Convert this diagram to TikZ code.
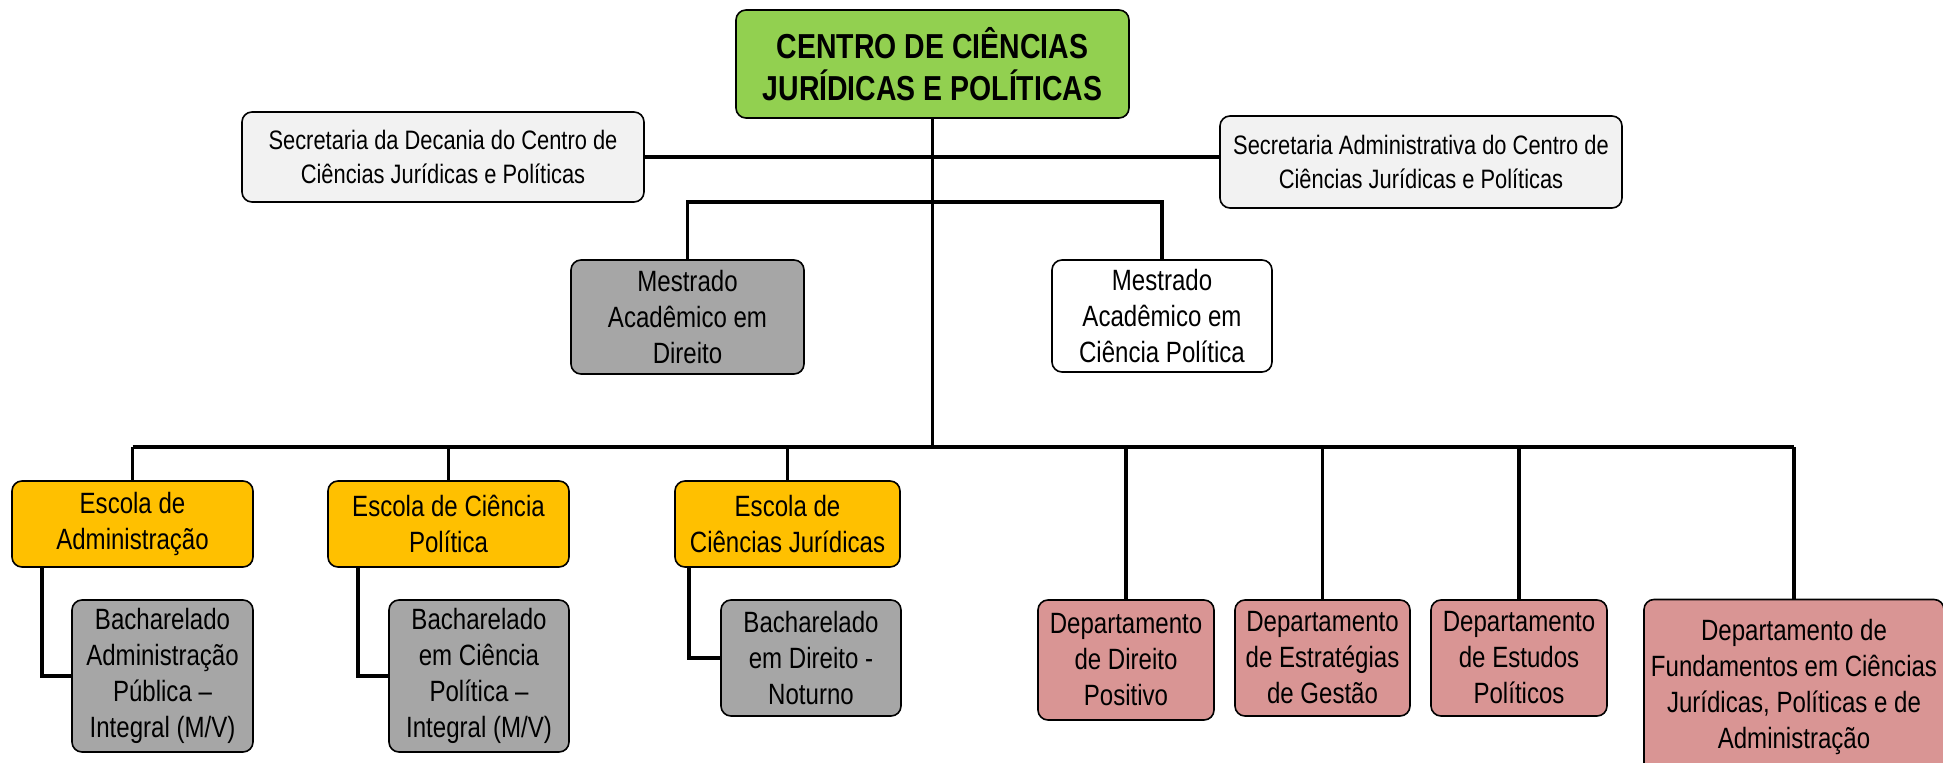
\documentclass[tikz,border=0pt]{standalone}
\usepackage{fontspec}
\setmainfont{Liberation Sans}[FakeStretch=0.82]
\definecolor{cgreen}{HTML}{92D050}
\definecolor{cgold}{HTML}{FFC000}
\definecolor{cgray}{HTML}{A6A6A6}
\definecolor{cpink}{HTML}{D99594}
\definecolor{clight}{HTML}{F2F2F2}
\tikzset{
  box/.style={draw=black, line width=1.2pt, rounded corners=7.5pt, align=center, inner sep=0pt,
    font=\fontsize{22}{27}\selectfont},
  sectxt/.style={font=\fontsize{20}{25}\selectfont},
  titletxt/.style={font=\fontsize{26}{31}\selectfont\bfseries},
  sz/.style 2 args={minimum width=#1*0.75pt, minimum height=#2*0.75pt},
  conn/.style={draw=black, line width=2.8pt, line join=miter}
}
\begin{document}
\begin{tikzpicture}[x=0.75pt,y=-0.75pt]
\useasboundingbox (0,0) rectangle (1943,763);

% nodes
\node[box, sz={393}{108}, fill=cgreen, titletxt] (top) at (932.5,64) {CENTRO DE CIÊNCIAS\\JURÍDICAS E POLÍTICAS};
\node[box, sz={402}{90}, fill=clight, sectxt] (secL) at (443,157) {Secretaria da Decania do Centro de\\Ciências Jurídicas e Políticas};
\node[box, sz={402}{92}, fill=clight, sectxt] (secR) at (1421,162) {Secretaria Administrativa do Centro de\\Ciências Jurídicas e Políticas};
\node[box, sz={233}{114}, fill=cgray] (mesL) at (687.5,317) {Mestrado\\Acadêmico em\\Direito};
\node[box, sz={220}{112}, fill=white] (mesR) at (1162,316) {Mestrado\\Acadêmico em\\Ciência Política};

\node[box, sz={241}{86}, fill=cgold] (escA) at (132.5,524) {Escola de\\Administração};
\node[box, sz={241}{86}, fill=cgold] (escC) at (448.5,524) {Escola de Ciência\\Política};
\node[box, sz={225}{86}, fill=cgold] (escJ) at (787.5,524) {Escola de\\Ciências Jurídicas};

\node[box, sz={181}{152}, fill=cgray] (bacA) at (162.5,676) {Bacharelado\\Administração\\Pública –\\Integral (M/V)};
\node[box, sz={180}{152}, fill=cgray] (bacC) at (479,676) {Bacharelado\\em Ciência\\Política –\\Integral (M/V)};
\node[box, sz={180}{116}, fill=cgray] (bacJ) at (811,658) {Bacharelado\\em Direito -\\Noturno};

\node[box, sz={176}{120}, fill=cpink] (depP) at (1126,660) {Departamento\\de Direito\\Positivo};
\node[box, sz={175}{116}, fill=cpink] (depE) at (1322.5,658) {Departamento\\de Estratégias\\de Gestão};
\node[box, sz={176}{116}, fill=cpink] (depS) at (1519,658) {Departamento\\de Estudos\\Políticos};
\node[box, sz={300}{175}, fill=cpink] (depF) at (1794,687) {Departamento de\\Fundamentos em Ciências\\Jurídicas, Políticas e de\\Administração};

% coordinates
\coordinate (bus) at (932,447);
\coordinate (mb) at (932,202);

% connectors
\draw[conn] (top.south) -- (top.south |- bus);
\draw[conn] (secL.east) -- (secL.east -| secR.west);
\draw[conn] (mesL.north) -- (mesL.north |- mb) -- (mesR.north |- mb) -- (mesR.north);
\draw[conn] (escA.north |- bus) -- (depF.north |- bus);
\foreach \n in {escA,escC,escJ,depP,depE,depS,depF}{
  \draw[conn] (\n.north) -- (\n.north |- bus);
}
\draw[conn] ([xshift=31*0.75pt]escA.south west) |- (bacA.west);
\draw[conn] ([xshift=31*0.75pt]escC.south west) |- (bacC.west);
\draw[conn] ([xshift=15*0.75pt]escJ.south west) |- (bacJ.west);
\end{tikzpicture}
\end{document}
